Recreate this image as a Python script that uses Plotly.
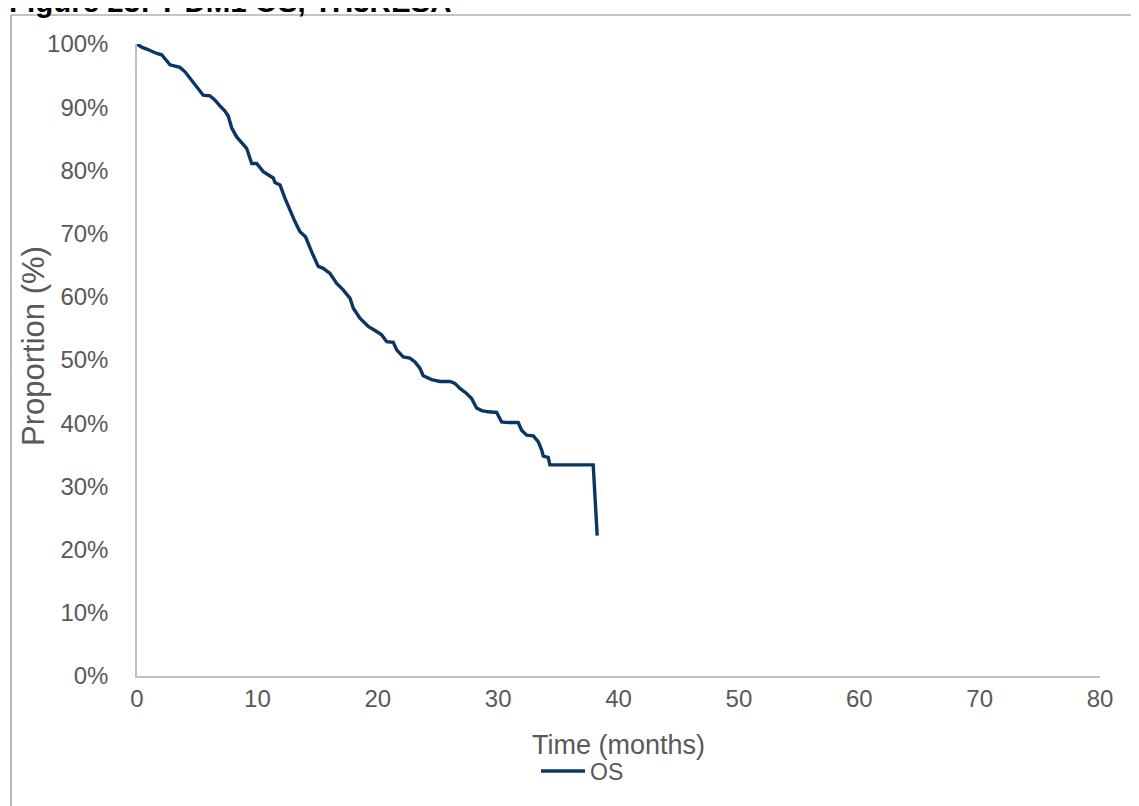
import plotly.graph_objects as go

# Kaplan-Meier style OS curve (months, %)
time_months = [0.0, 0.39, 0.81, 1.22, 1.64, 2.05, 2.33, 2.74, 3.16, 3.57, 3.99, 4.4, 4.82,
               5.23, 5.5, 6.06, 6.48, 6.89, 7.31, 7.58, 7.87, 8.28, 8.83, 9.11, 9.53, 9.94,
               10.49, 10.9, 11.32, 11.46, 11.88, 12.29, 12.71, 13.12, 13.54, 14.0, 14.51,
               15.06, 15.47, 16.03, 16.59, 17.13, 17.69, 17.97, 18.52, 19.21, 19.91, 20.32,
               20.74, 21.29, 21.57, 22.12, 22.67, 23.09, 23.5, 23.78, 24.48, 25.17, 26.0,
               26.41, 26.83, 27.38, 27.8, 28.21, 28.63, 29.18, 29.88, 30.29, 30.84, 31.67,
               31.95, 32.37, 32.92, 33.33, 33.61, 33.75, 34.16, 34.3, 37.9, 38.23]
os_pct = [100.0, 99.5, 99.2, 98.8, 98.5, 98.3, 97.7, 96.7, 96.5, 96.3, 95.6, 94.6, 93.5,
          92.5, 91.9, 91.8, 91.1, 90.2, 89.4, 88.6, 86.7, 85.3, 84.0, 83.5, 81.1, 81.1,
          79.8, 79.3, 78.8, 78.1, 77.7, 75.6, 73.7, 71.9, 70.3, 69.5, 67.1,
          64.8, 64.5, 63.7, 62.1, 61.1, 59.8, 58.2, 56.6, 55.3, 54.5, 54.0,
          52.9, 52.8, 51.6, 50.5, 50.3, 49.7, 48.7, 47.5, 46.9, 46.6, 46.6,
          46.3, 45.5, 44.7, 43.9, 42.4, 42.0, 41.8, 41.7, 40.2, 40.1, 40.1,
          38.9, 38.1, 38.0, 37.1, 35.8, 34.8, 34.6, 33.4, 33.4, 22.2]

x_ticks = [0, 10, 20, 30, 40, 50, 60, 70, 80]
y_ticks = [0, 10, 20, 30, 40, 50, 60, 70, 80, 90, 100]
y_tick_labels = [f"{v}%" for v in y_ticks]

title_text = "Figure 23: T-DM1 OS, TH3RESA"
x_title = "Time (months)"
y_title = "Proportion (%)"
series_name = "OS"

# window geometry (the page body adds an 8px offset)
OFF = 8
W, H = 1139, 806
PL, PR, PT, PB = 137, 1100, 44, 676          # plot area in window pixels
L, T = PL - OFF, PT - OFF
pw, ph = PR - PL, PB - PT
R = W - L - pw
B = H - T - ph

def px_x(p):
    return (p - PL) / pw

def px_y(p):
    return (PB - p) / ph

fig = go.Figure()
fig.add_trace(go.Scatter(
    x=time_months, y=os_pct, mode="lines", name=series_name,
    line=dict(color="#0a3565", width=3.4),
))

font_family = "Liberation Sans, Arial, sans-serif"
tick_color = "#595959"

fig.update_layout(
    width=W, height=H,
    margin=dict(l=L, r=R, t=T, b=B),
    paper_bgcolor="white", plot_bgcolor="white",
    font=dict(family=font_family, size=24, color=tick_color),
    showlegend=True,
    legend=dict(orientation="h", x=px_x(536), xanchor="left", y=px_y(771), yanchor="middle",
                font=dict(size=23, color=tick_color), itemwidth=44,
                bgcolor="rgba(0,0,0,0)"),
    xaxis=dict(range=[0, 80], tickvals=x_ticks, showgrid=False, zeroline=False,
               showline=True, linecolor="#c0c0c0", linewidth=1.5, ticks="",
               tickfont=dict(size=24, color=tick_color), ticklabelstandoff=0,
               title=dict(text=x_title, font=dict(size=27, color=tick_color), standoff=25),
               fixedrange=True),
    yaxis=dict(range=[0, 100], tickvals=y_ticks, ticktext=y_tick_labels, showgrid=False,
               zeroline=False, showline=True, linecolor="#c0c0c0", linewidth=1.5, ticks="",
               tickfont=dict(size=24, color=tick_color), ticklabelstandoff=22,
               fixedrange=True),
    shapes=[
        dict(type="line", xref="paper", yref="paper", x0=px_x(11), x1=px_x(W + 20),
             y0=px_y(15), y1=px_y(15), line=dict(color="#8c8c8c", width=1.2)),
        dict(type="line", xref="paper", yref="paper", x0=px_x(11), x1=px_x(11),
             y0=px_y(15), y1=px_y(H + 20), line=dict(color="#8c8c8c", width=1.2)),
    ],
    annotations=[
        dict(text=f"<b>{title_text}</b>", xref="paper", yref="paper",
             x=px_x(7), xanchor="left", y=px_y(20), yanchor="bottom", showarrow=False,
             font=dict(family="Liberation Sans, Arial, sans-serif", size=29.5, color="black")),
        dict(text=y_title, xref="paper", yref="paper", textangle=-90,
             x=px_x(33), xanchor="center", y=px_y(346), yanchor="middle", showarrow=False,
             font=dict(family=font_family, size=31, color=tick_color)),
    ],
)

fig.write_html("out.html")
